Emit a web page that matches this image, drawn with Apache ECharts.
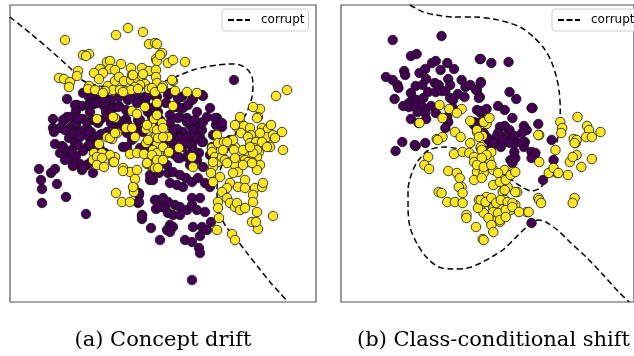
<!DOCTYPE html>
<html>
<head>
<meta charset="utf-8">
<script src="https://cdn.jsdelivr.net/npm/echarts@6/dist/echarts.min.js"></script>
<style>
    html, body { margin: 0; padding: 0; background: #fff; }
    #drift_shift { width: 634px; height: 356px; }
</style>
</head>
<body>
<div id="drift_shift"></div>
<script>

// Panel (a) - concept drift, points in feature space
var conceptYellow = [
    [128,28],[143,32],[116,35],[65,40],[149,44],[155,43],[157,44],[162,53],[156,59],[83,55],[89,54],[86,56],
    [157,61],[168,63],[173,60],[185,62],[107,62],[110,61],[121,64],[131,68],[100,69],[110,69],[115,70],[142,68],
    [149,71],[156,70],[156,77],[78,71],[94,73],[103,73],[59,78],[64,79],[70,82],[69,87],[77,76],[99,79],[89,86],
    [108,86],[115,81],[119,77],[124,81],[131,80],[132,75],[138,79],[142,76],[145,84],[140,85],[135,87],[149,89],
    [157,83],[163,86],[113,90],[120,90],[126,91],[131,90],[138,89],[152,88],[99,91],[105,91],[155,92],[175,91],
    [187,92],[173,81],[160,55],[88,89],[95,90],[103,93],[123,92],[162,88],[172,80],[197,93],[133,75],[143,74],
    [145,107],[132,111],[137,114],[115,118],[97,119],[154,119],[146,129],[135,137],[126,128],[132,128],[117,133],
    [112,139],[107,137],[154,137],[146,143],[130,154],[137,153],[144,154],[115,157],[94,153],[99,144],[157,144],
    [157,103],[157,115],[162,123],[153,128],[156,137],[160,136],[168,137],[153,150],[157,153],[168,153],[163,147],
    [173,106],[113,117],[147,125],[157,130],[163,128],[110,138],[115,133],[148,140],[102,153],[110,155],[152,155],
    [93,160],[113,162],[123,168],[130,172],[137,170],[150,165],[157,168],[97,157],[102,158],[97,165],[104,167],
    [114,162],[123,171],[135,179],[134,188],[134,192],[116,193],[122,202],[130,202],[147,164],[155,168],[157,160],
    [158,138],[163,137],[147,163],[163,160],[169,152],[158,168],[133,187],[179,148],[193,167],[192,157],
    [217,135],[212,148],[218,143],[224,142],[235,147],[240,122],[237,127],[244,126],[250,128],[241,133],[251,135],
    [248,137],[260,109],[258,117],[276,96],[287,90],[262,128],[268,129],[271,125],[267,137],[260,133],[274,137],
    [282,132],[250,143],[256,142],[254,148],[259,152],[270,147],[283,150],[248,155],[257,157],[233,140],[212,152],
    [215,157],[218,162],[222,157],[225,160],[213,167],[211,173],[220,177],[213,182],[234,150],[239,160],[245,160],
    [230,162],[235,165],[257,150],[253,153],[262,142],[267,147],[273,135],[275,138],[248,162],[253,163],[260,165],
    [257,170],[238,172],[233,173],[245,180],[230,183],[227,188],[238,187],[245,188],[222,192],[218,202],[227,198],
    [230,203],[235,207],[218,208],[219,218],[237,203],[240,210],[245,208],[255,188],[253,195],[262,187],[263,183],
    [253,202],[257,212],[252,222],[258,229],[273,216],[217,230],[232,234],[235,240],[256,222],[253,107],[240,117],
    [235,125],[257,118],[227,142],[243,150],[250,147],[213,162],[227,163],[235,158],[243,165],[252,163],[223,150]
];

var conceptPurple = [
    [67,99],[83,93],[89,97],[77,105],[82,106],[88,105],[94,104],[97,97],[105,97],[111,100],[128,100],[138,97],
    [145,97],[156,97],[119,106],[113,108],[126,110],[104,106],[106,112],[76,111],[90,112],[53,119],[64,120],[67,117],
    [83,119],[92,120],[98,123],[110,113],[111,123],[126,119],[138,120],[148,112],[155,115],[53,128],[54,132],[60,128],
    [71,127],[77,128],[76,123],[87,128],[91,132],[69,138],[73,134],[80,133],[89,137],[95,140],[102,134],[116,128],
    [122,126],[137,128],[133,137],[157,128],[158,137],[55,144],[62,146],[60,153],[68,151],[70,157],[76,156],[88,146],
    [91,146],[97,143],[100,149],[75,143],[105,153],[83,151],[123,147],[132,140],
    [39,169],[41,180],[42,189],[42,203],[51,173],[55,169],[57,184],[66,197],[86,214],[73,166],[82,170],[80,164],
    [87,165],[93,173],[105,154],[139,193],[138,203],[142,215],[142,219],[151,228],[155,200],[156,209],[150,180],[160,240],
    [234,80],[168,95],[182,97],[193,99],[202,95],[210,108],[150,108],[158,112],[175,107],[183,108],[170,115],[180,117],
    [187,118],[190,125],[198,126],[217,118],[216,125],[222,127],[183,132],[177,129],[202,130],[200,137],[188,138],
    [192,142],[203,142],[175,137],[173,144],[183,147],[193,150],[175,155],[187,157],[193,157],[210,155],[213,157],
    [230,140],[157,142],[163,143],[150,152],
    [170,137],[180,138],[187,137],[197,137],[202,142],[192,145],[199,153],[173,153],[180,158],[188,155],[150,175],
    [153,180],[159,173],[168,173],[173,172],[180,175],[186,178],[192,182],[198,178],[205,183],[210,187],[170,183],
    [177,185],[183,187],[139,195],[139,202],[156,200],[163,198],[168,202],[175,205],[180,207],[187,210],[192,198],
    [200,198],[160,207],[165,208],[192,205],[197,210],[205,212],[168,213],[173,215],[180,215],[142,216],[170,225],
    [167,230],[173,227],[193,227],[202,227],[207,230],[211,222],[185,240],[192,242],[200,236],[199,248],[200,253],
    [192,280],[170,232],
    [63,120],[70,117],[78,118],[87,122],[100,120],[107,117],[117,120],[127,123],[140,120],[152,117],[160,120],
    [170,123],[178,118],[187,122],[195,120],[203,122],[215,118],[222,123],[65,130],[73,133],[80,137],[89,132],
    [100,135],[107,132],[127,133],[143,132],[173,130],[193,130],[213,135],[63,147],[72,150],[78,145],[90,145],
    [97,150],[127,147],[140,148],[150,147],[163,145],[185,143],[193,152],[212,147],[65,160],[73,165],[83,168],
    [90,163],[160,160],[167,165],[178,158],[190,165],[197,160],[203,167],[75,105],[97,103],[105,103],[118,107],
    [137,103],[145,103],[157,105],[166,103],[178,107],[188,105],[197,112],[207,117],[92,95],[103,98],[119,97],
    [130,97],[147,97],[157,97],[170,93],[178,98],[192,100],[203,96]
];

var conceptBoundary = [
    [10,17],[30,33],[50,50],[70,68],[82,80],[100,86],[130,88],[155,84],[168,80],[180,75],[193,70],[205,67],
    [217,65],[230,64],[240,65],[248,70],[252,77],[253,85],[252,97],[247,112],[240,124],[235,135],[228,150],
    [223,162],[218,178],[217,192],[218,205],[221,217],[227,228],[237,240],[247,253],[258,267],[270,282],
    [280,293],[288,302]
];

// Panel (b) - class-conditional shift
var shiftYellow = [
    [444,105],[454,109],[467,109],[462,113],[447,118],[423,123],[476,121],[483,132],[460,132],[466,137],[441,139],
    [447,137],[476,143],[487,148],[459,154],[468,152],[475,153],[432,157],
    [588,117],[570,122],[572,128],[571,133],[548,135],[598,126],[600,130],[597,137],[603,137],[612,132],[584,139],
    [586,143],[565,150],[587,155],[603,159],[493,124],[490,122],[496,118],[483,130],[489,136],[485,137],[487,147],
    [492,153],[498,152],
    [442,140],[428,165],[433,169],[480,157],[480,162],[487,167],[483,172],[490,173],[496,160],[500,170],[512,170],
    [520,172],[453,171],[462,173],[465,178],[467,187],[443,192],[452,202],[460,202],[468,203],[480,180],[488,178],
    [500,185],[510,183],[515,187],[510,192],[493,197],[497,203],[500,208],[507,208],[512,200],[515,203],[518,210],
    [523,205],[525,192],[487,205],[490,213],[500,217],[507,222],[472,215],[472,218],[482,227],[535,212],[547,198],
    [560,172],[567,173],[580,162],[583,157],[587,140],[585,198],[583,203],[592,167],[547,135],
    [464,187],[468,193],[446,193],[485,200],[484,208],[489,239],
    [488,150],[493,155],[488,158],[483,165],[490,167],[498,165],[505,173],[507,182],[513,180],[518,175],[523,172],
    [512,190],[523,192],[487,200],[492,202],[498,198],[503,203],[508,200],[515,202],[520,203],[500,212],[505,213],
    [513,210],[520,207],[527,212],[537,212],[495,218],[507,220],[513,217],[498,225],[500,232],[490,240],[548,162],
    [548,200],[550,203],[558,173],[563,168],[568,173],[578,175],[585,143]
];

var shiftPurple = [
    [395,40],[446,36],[414,56],[420,54],[436,63],[440,61],[452,63],[423,73],[429,69],[407,71],[408,75],[388,77],
    [395,80],[400,85],[401,88],[419,86],[426,85],[430,79],[439,83],[443,85],[453,79],[455,85],[445,70],[459,69],
    [467,80],[471,87],[476,85],[483,90],[487,82],[486,59],[397,99],[414,93],[416,98],[412,103],[420,100],[427,98],
    [432,92],[440,92],[446,91],[450,91],[455,98],[458,100],[463,94],[470,97],[486,97],[406,106],[412,107],[419,107],
    [426,107],[421,112],[429,113],[435,106],[440,113],[452,117],[453,122],[450,128],[458,108],[483,110],[487,113],
    [414,119],[430,119],[422,123],[398,151],[419,146],[429,143],[480,125],
    [487,59],[498,63],[516,62],[487,83],[482,90],[485,98],[517,92],[524,99],[541,108],[505,106],[512,110],[487,111],
    [493,109],[520,118],[507,127],[512,126],[517,130],[513,136],[505,133],[532,126],[535,130],[530,133],[547,124],
    [522,136],[523,143],[522,152],[533,142],[532,147],[561,140],[503,142],[508,147],[515,142],[493,137],[498,147],
    [540,152],[543,155],[480,122],[485,123],
    [405,142],[418,145],[540,108],[544,153],[540,158],[563,160],[552,180],[518,143],[518,160],[530,142],[490,133],
    [503,137],[510,140],[495,140],[500,143],[540,223],[520,163],[523,158]
];

var shiftBoundary = [
    [413,5],[427,12],[440,15],[457,17],[480,17],[500,19],[517,23],[530,28],[542,37],[552,47],[560,60],[566,77],
    [569,93],[570,110],[569,127],[567,140],[566,150],[562,165],[556,178],[549,188],[540,191],[530,187],[515,177],
    [500,168],[490,162],[480,153],[465,149],[450,147],[433,150],[422,160],[415,173],[411,190],[411,207],[413,227],
    [420,243],[430,257],[443,267],[457,269],[473,268],[487,263],[500,256],[510,250],[523,238],[535,227],[547,220],
    [555,222],[567,230],[580,242],[597,257],[613,273],[632,293],[642,302]
];

var captions = ['(a) Concept drift', '(b) Class-conditional shift'];

var chart = echarts.init(document.getElementById('drift_shift'));

var YELLOW = '#fde725';
var PURPLE = '#440154';

// three-dash legend handle (corner specks keep the icon box 22x12)
var DASH_ICON = 'path://M0,5h6v2h-6z M8.5,5h6v2h-6z M17,5h5v2h-5z M0,0h0.01v0.01h-0.01z M21.99,11.99h0.01v0.01h-0.01z';

var hiddenAxis = function (extra) {
    var ax = {
        type: 'value',
        axisLine: { show: false },
        axisTick: { show: false },
        axisLabel: { show: false },
        splitLine: { show: false }
    };
    for (var k in extra) ax[k] = extra[k];
    return ax;
};

var dots = function (name, data, color, idx) {
    return {
        name: name,
        type: 'scatter',
        xAxisIndex: idx,
        yAxisIndex: idx,
        symbolSize: 9.5,
        z: 3,
        itemStyle: { color: color, borderColor: '#111', borderWidth: 0.8, opacity: 1 },
        data: data
    };
};

var boundary = function (data, idx) {
    return {
        name: 'corrupt',
        type: 'line',
        xAxisIndex: idx,
        yAxisIndex: idx,
        symbol: 'none',
        smooth: 0.3,
        z: 2,
        itemStyle: { color: '#000' },
        lineStyle: { color: '#000', width: 1.5, type: [6, 3.5] },
        data: data
    };
};

var legendBox = function (left) {
    return {
        left: left,
        top: 9,
        orient: 'vertical',
        data: [{ name: 'corrupt', icon: DASH_ICON }],
        itemWidth: 22,
        itemHeight: 12,
        padding: [5, 4, 5, 6],
        borderColor: '#cccccc',
        borderWidth: 1,
        borderRadius: 3,
        backgroundColor: 'rgba(255,255,255,0.8)',
        selectedMode: false,
        itemStyle: { color: '#000', borderWidth: 0, opacity: 1 },
        textStyle: { fontFamily: 'DejaVu Sans', fontSize: 12, color: '#000', padding: [0, 0, 0, 6] }
    };
};

chart.setOption({
    animation: false,
    grid: [
        { left: 10, top: 5, width: 306, height: 297, show: true, borderColor: '#555', borderWidth: 1.2, backgroundColor: '#fff' },
        { left: 341, top: 5, width: 306, height: 297, show: true, borderColor: '#555', borderWidth: 1.2, backgroundColor: '#fff' }
    ],
    xAxis: [
        hiddenAxis({ gridIndex: 0, min: 10, max: 316 }),
        hiddenAxis({ gridIndex: 1, min: 341, max: 647 })
    ],
    yAxis: [
        hiddenAxis({ gridIndex: 0, min: 5, max: 302, inverse: true }),
        hiddenAxis({ gridIndex: 1, min: 5, max: 302, inverse: true })
    ],
    legend: [legendBox(222), legendBox(552)],
    series: [
        boundary(conceptBoundary, 0),
        dots('class 0', conceptPurple, PURPLE, 0),
        dots('class 1', conceptYellow, YELLOW, 0),
        boundary(shiftBoundary, 1),
        dots('class 0', shiftPurple, PURPLE, 1),
        dots('class 1', shiftYellow, YELLOW, 1)
    ],
    // sub-figure captions
    graphic: [
        {
            type: 'text',
            style: {
                text: captions[0], x: 163, y: 341,
                fontFamily: 'DejaVu Serif', fontSize: 21, fill: '#000',
                align: 'center', verticalAlign: 'middle'
            }
        },
        {
            type: 'text',
            style: {
                text: captions[1], x: 357, y: 341,
                fontFamily: 'DejaVu Serif', fontSize: 21, fill: '#000',
                align: 'left', verticalAlign: 'middle'
            }
        }
    ]
});

</script>
</body>
</html>
